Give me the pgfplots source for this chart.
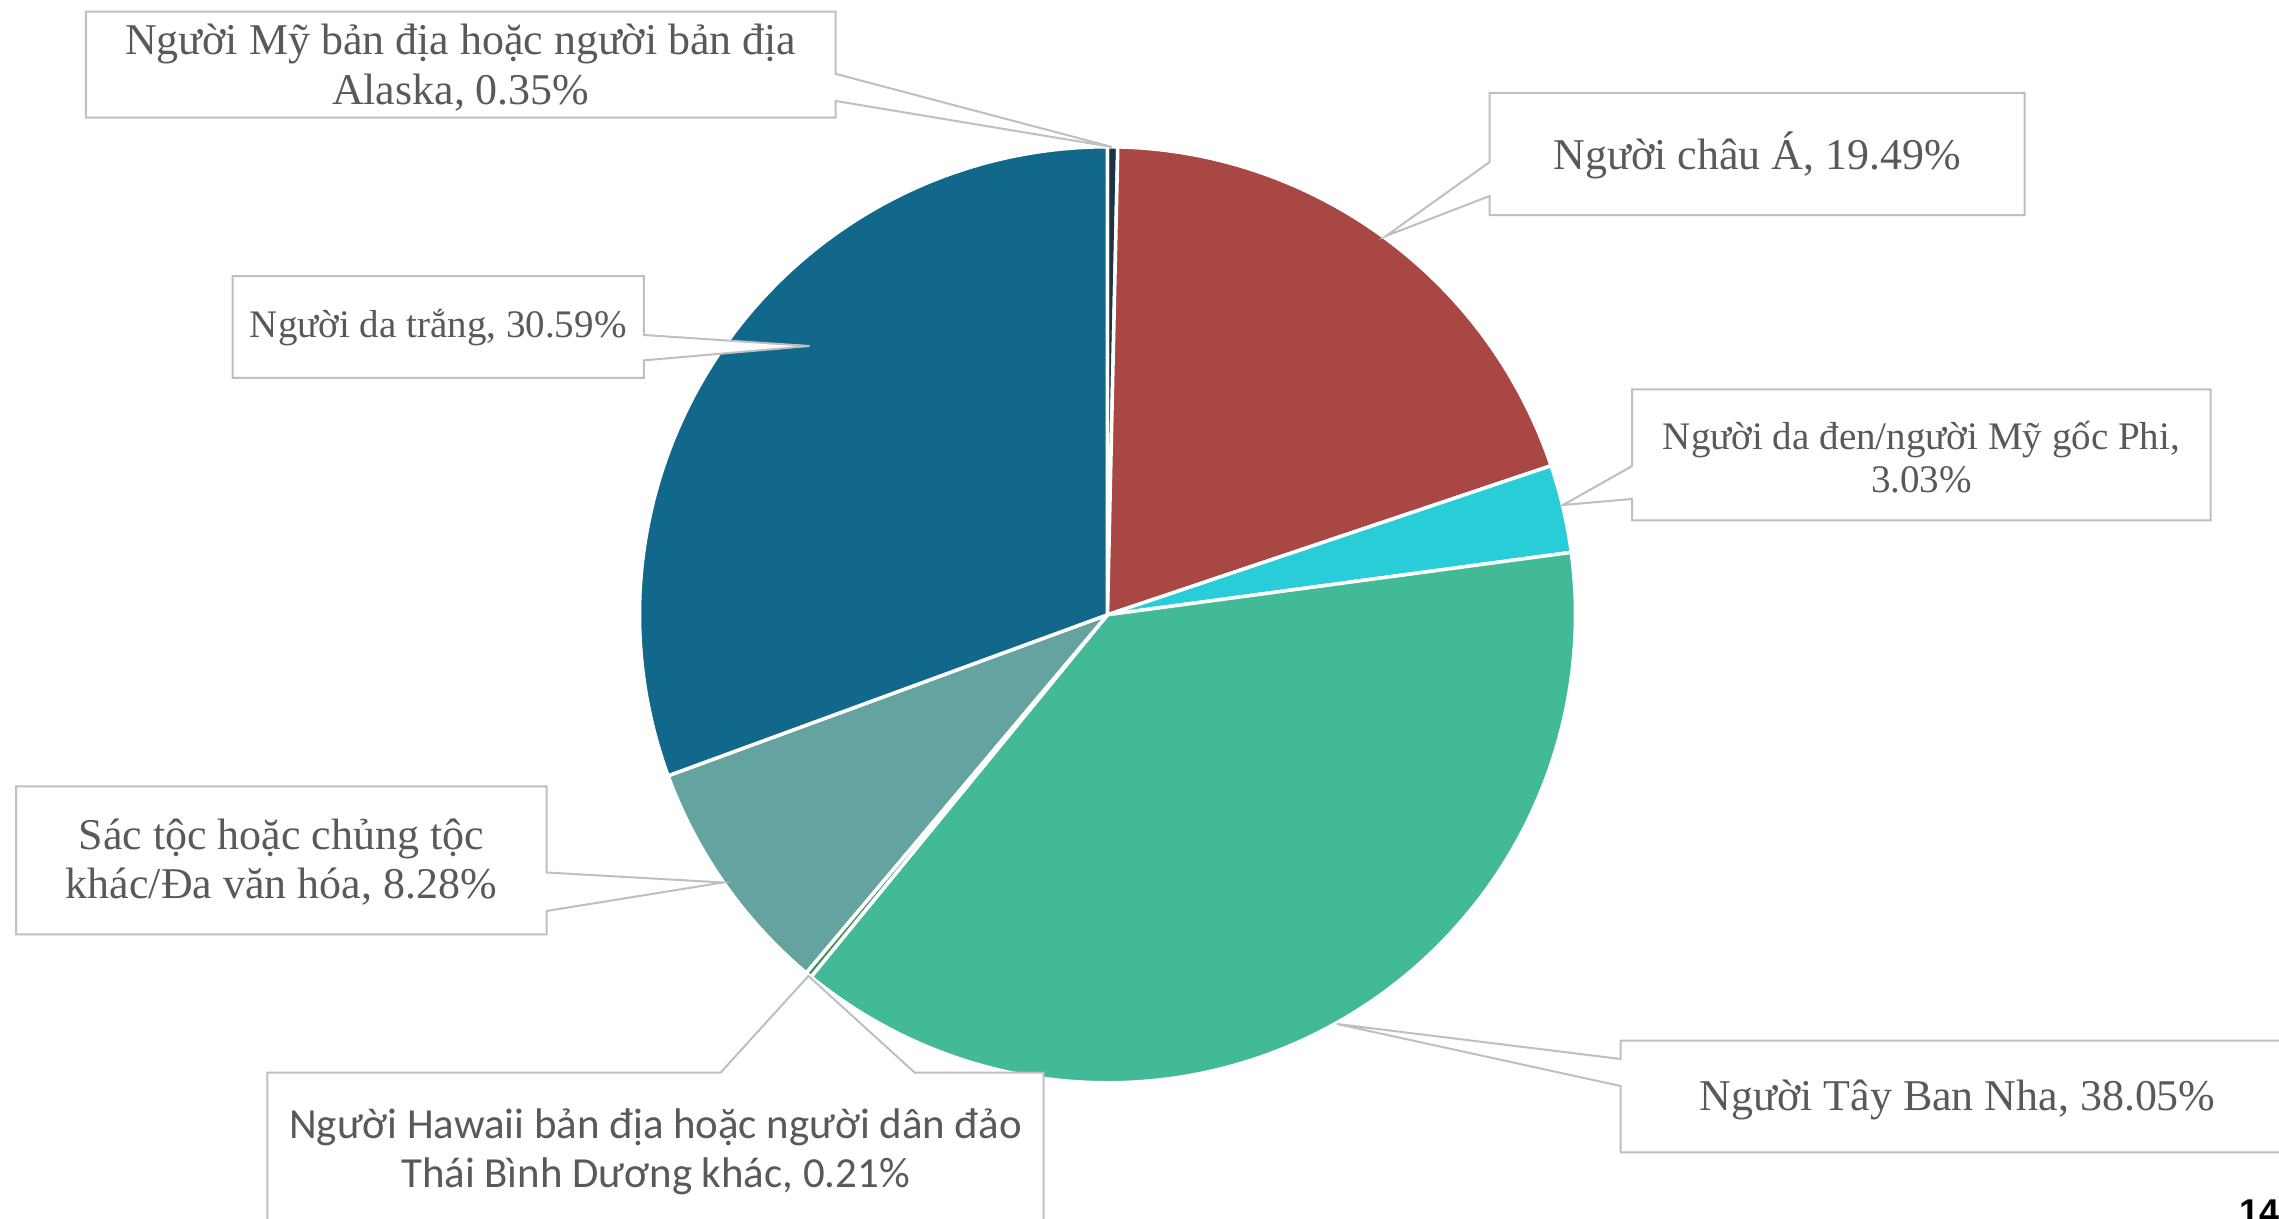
\documentclass[border=0pt]{standalone}
\usepackage{pgfplots}
\pgfplotsset{compat=1.18}
\usepgfplotslibrary{polar}
\usepackage{fontspec}
\setmainfont{Liberation Serif}
\newfontfamily\calib{Carlito}
\newfontfamily\arialb{Liberation Sans}
\definecolor{cWhite}{HTML}{12688A}
\definecolor{cAsian}{HTML}{A94744}
\definecolor{cBlack}{HTML}{28CDD8}
\definecolor{cHisp}{HTML}{43BA97}
\definecolor{cHaw}{HTML}{3E8F55}
\definecolor{cOther}{HTML}{64A39F}
\definecolor{cAlaska}{HTML}{1E3445}
\definecolor{txt}{HTML}{595959}
\definecolor{bord}{HTML}{BFBFBF}
% slice from cumulative percent #1 to #2 (clockwise from 12 o'clock)
\newcommand{\slice}[3]{%
  \addplot[fill=#3, draw=white, line width=0.35mm, line join=round,
    domain=90-3.6*#2:90-3.6*#1, samples=120] {1} -- (axis cs:0,0) -- cycle;}
\begin{document}
\begin{tikzpicture}
\path[use as bounding box] (0,0) rectangle (227.9mm,121.9mm);
\begin{polaraxis}[
  hide axis, scale only axis, width=93.6mm, height=93.6mm,
  ymin=0, ymax=1,
  at={(110.75mm,60.42mm)}, anchor=origin, clip=false]
% shares (%): Alaska 0.35, Asian 19.49, Black 3.03, Hispanic 38.05,
% Hawaiian 0.21, Other 8.28, White 30.59
\slice{0}{0.35}{cAlaska}
\slice{0.35}{19.84}{cAsian}
\slice{19.84}{22.87}{cBlack}
\slice{22.87}{60.92}{cHisp}
\slice{60.92}{61.13}{cHaw}
\slice{61.13}{69.41}{cOther}
\slice{69.41}{100}{cWhite}
\end{polaraxis}
\begin{scope}[x=0.1mm, y=-0.1mm, shift={(0,121.9mm)}]
\tikzset{co/.style={fill=white, draw=bord, line width=0.2mm},
  lab/.style={text=txt, align=center, inner sep=0pt}}
% Alaska
\draw[co] (85.8,11.6) -- (835.7,11.6) -- (835.7,73.9) -- (1112,147) -- (835.7,101) -- (835.7,117.7) -- (85.8,117.7) -- cycle;
\node[lab, font=\fontsize{12.5}{14.1}\selectfont] at (460.75,67.5) {Người Mỹ bản địa hoặc người bản địa\\Alaska, 0.35\%};
% Asian
\draw[co] (1489.7,93) -- (2024.6,93) -- (2024.6,215.1) -- (1489.7,215.1) -- (1489.7,196) -- (1386,236) -- (1489.7,162) -- cycle;
\node[lab, font=\fontsize{12.5}{14.1}\selectfont] at (1757.2,155) {Người châu Á, 19.49\%};
% Black
\draw[co] (1632.2,389.5) -- (2210.6,389.5) -- (2210.6,520.3) -- (1632.2,520.3) -- (1632.2,499) -- (1563,505) -- (1632.2,466) -- cycle;
\node[lab, font=\fontsize{11.1}{12.4}\selectfont] at (1921.4,457) {Người da đen/người Mỹ gốc Phi,\\3.03\%};
% Hispanic
\draw[co] (1620.5,1040.6) -- (2295,1040.6) -- (2295,1152.5) -- (1620.5,1152.5) -- (1620.5,1086) -- (1337,1024) -- (1620.5,1059) -- cycle;
\node[lab, font=\fontsize{12.5}{14.1}\selectfont] at (1957.7,1100.2) {Người Tây Ban Nha, 38.05\%};
% Hawaiian
\draw[co] (267.4,1072.6) -- (720.6,1072.6) -- (808.4,976) -- (914.7,1072.6) -- (1043.5,1072.6) -- (1043.5,1230) -- (267.4,1230) -- cycle;
\node[lab, font=\calib\fontsize{12.2}{13.9}\selectfont] at (655.5,1152) {Người Hawaii bản địa hoặc người dân đảo\\Thái Bình Dương khác, 0.21\%};
% Other
\draw[co] (16,786.3) -- (546.5,786.3) -- (546.5,872.5) -- (723,882.5) -- (546.5,911) -- (546.5,934.5) -- (16,934.5) -- cycle;
\node[lab, font=\fontsize{12.5}{14.1}\selectfont] at (281.3,862) {Sác tộc hoặc chủng tộc\\khác/Đa văn hóa, 8.28\%};
% White
\draw[co] (232.5,276.1) -- (643.9,276.1) -- (643.9,335) -- (809.5,346) -- (643.9,360.4) -- (643.9,377.9) -- (232.5,377.9) -- cycle;
\node[lab, font=\fontsize{11.1}{12.4}\selectfont] at (438.2,328) {Người da trắng, 30.59\%};
% page number
\node[anchor=north west, inner sep=0pt, font=\arialb\bfseries\fontsize{10.2}{12}\selectfont] at (2239,1199) {14};
\end{scope}
\end{tikzpicture}
\end{document}
